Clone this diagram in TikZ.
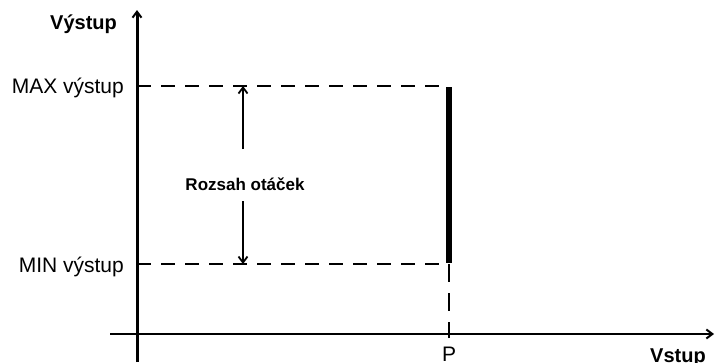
\documentclass[tikz,border=0pt]{standalone}
\usepackage{fontspec}
\setmainfont{Liberation Sans}
\usetikzlibrary{arrows.meta}
\begin{document}
\begin{tikzpicture}[x=1pt,y=-1pt,
  axis/.style={draw=black,-{Straight Barb[length=6pt,width=9pt,line width=2pt]}},
  guide/.style={draw=black,line width=2.8pt,dash pattern=on 14pt off 10pt},
  guidev/.style={draw=black,line width=2pt,dash pattern=on 18pt off 11pt},
  rangearrow/.style={draw=black,line width=2.2pt,-{Straight Barb[length=6pt,width=9pt,line width=1.8pt]}},
  lbl/.style={inner sep=0pt,font=\fontsize{21}{25}\selectfont},
  blbl/.style={inner sep=0pt,font=\fontsize{20}{24}\selectfont\bfseries},
  rlbl/.style={inner sep=0pt,font=\fontsize{17}{20}\selectfont\bfseries}]
\useasboundingbox (0,0) rectangle (715,362);
% coordinates
\coordinate (ybot) at (137,362);
\coordinate (ytop) at (137,10);
\coordinate (xl) at (110,334);
\coordinate (xr) at (714,334);
\coordinate (maxl) at (137,86);
\coordinate (minl) at (137,264);
\coordinate (maxr) at (449,86);
\coordinate (minr) at (449,264);
\coordinate (pax) at (449,334);
\coordinate (arrtop) at (243,86);
\coordinate (arrbot) at (243,264);
\coordinate (arrs1) at (243,149);
\coordinate (arrs2) at (243,201);
% axes
\draw[axis,line width=3pt] (ybot) -- (ytop);
\draw[axis,line width=2.2pt] (xl) -- (xr);
% guides
\draw[guide] (maxl) -- (maxr);
\draw[guide] (minl) -- (minr);
\draw[guidev] (minr) -- (pax);
\draw[line width=6.5pt] ([yshift=-1pt]maxr) -- ([yshift=1pt]minr);
\draw[line width=2pt] ([yshift=-4pt]pax) -- ([yshift=4pt]pax);
% range arrows
\draw[rangearrow] (arrs1) -- (arrtop);
\draw[rangearrow] (arrs2) -- (arrbot);
% labels
\node[blbl,anchor=base west] (ylab) at (50,29) {Výstup};
\node[lbl,anchor=base east] (maxlab) at (124,93) {MAX výstup};
\node[lbl,anchor=base east] (minlab) at (124,272) {MIN výstup};
\node[rlbl,anchor=base] (rng) at (245,190) {Rozsah otáček};
\node[lbl,anchor=base] (plab) at (449,361) {P};
\node[blbl,anchor=base west] (xlab) at (650,362) {Vstup};
\end{tikzpicture}
\end{document}
